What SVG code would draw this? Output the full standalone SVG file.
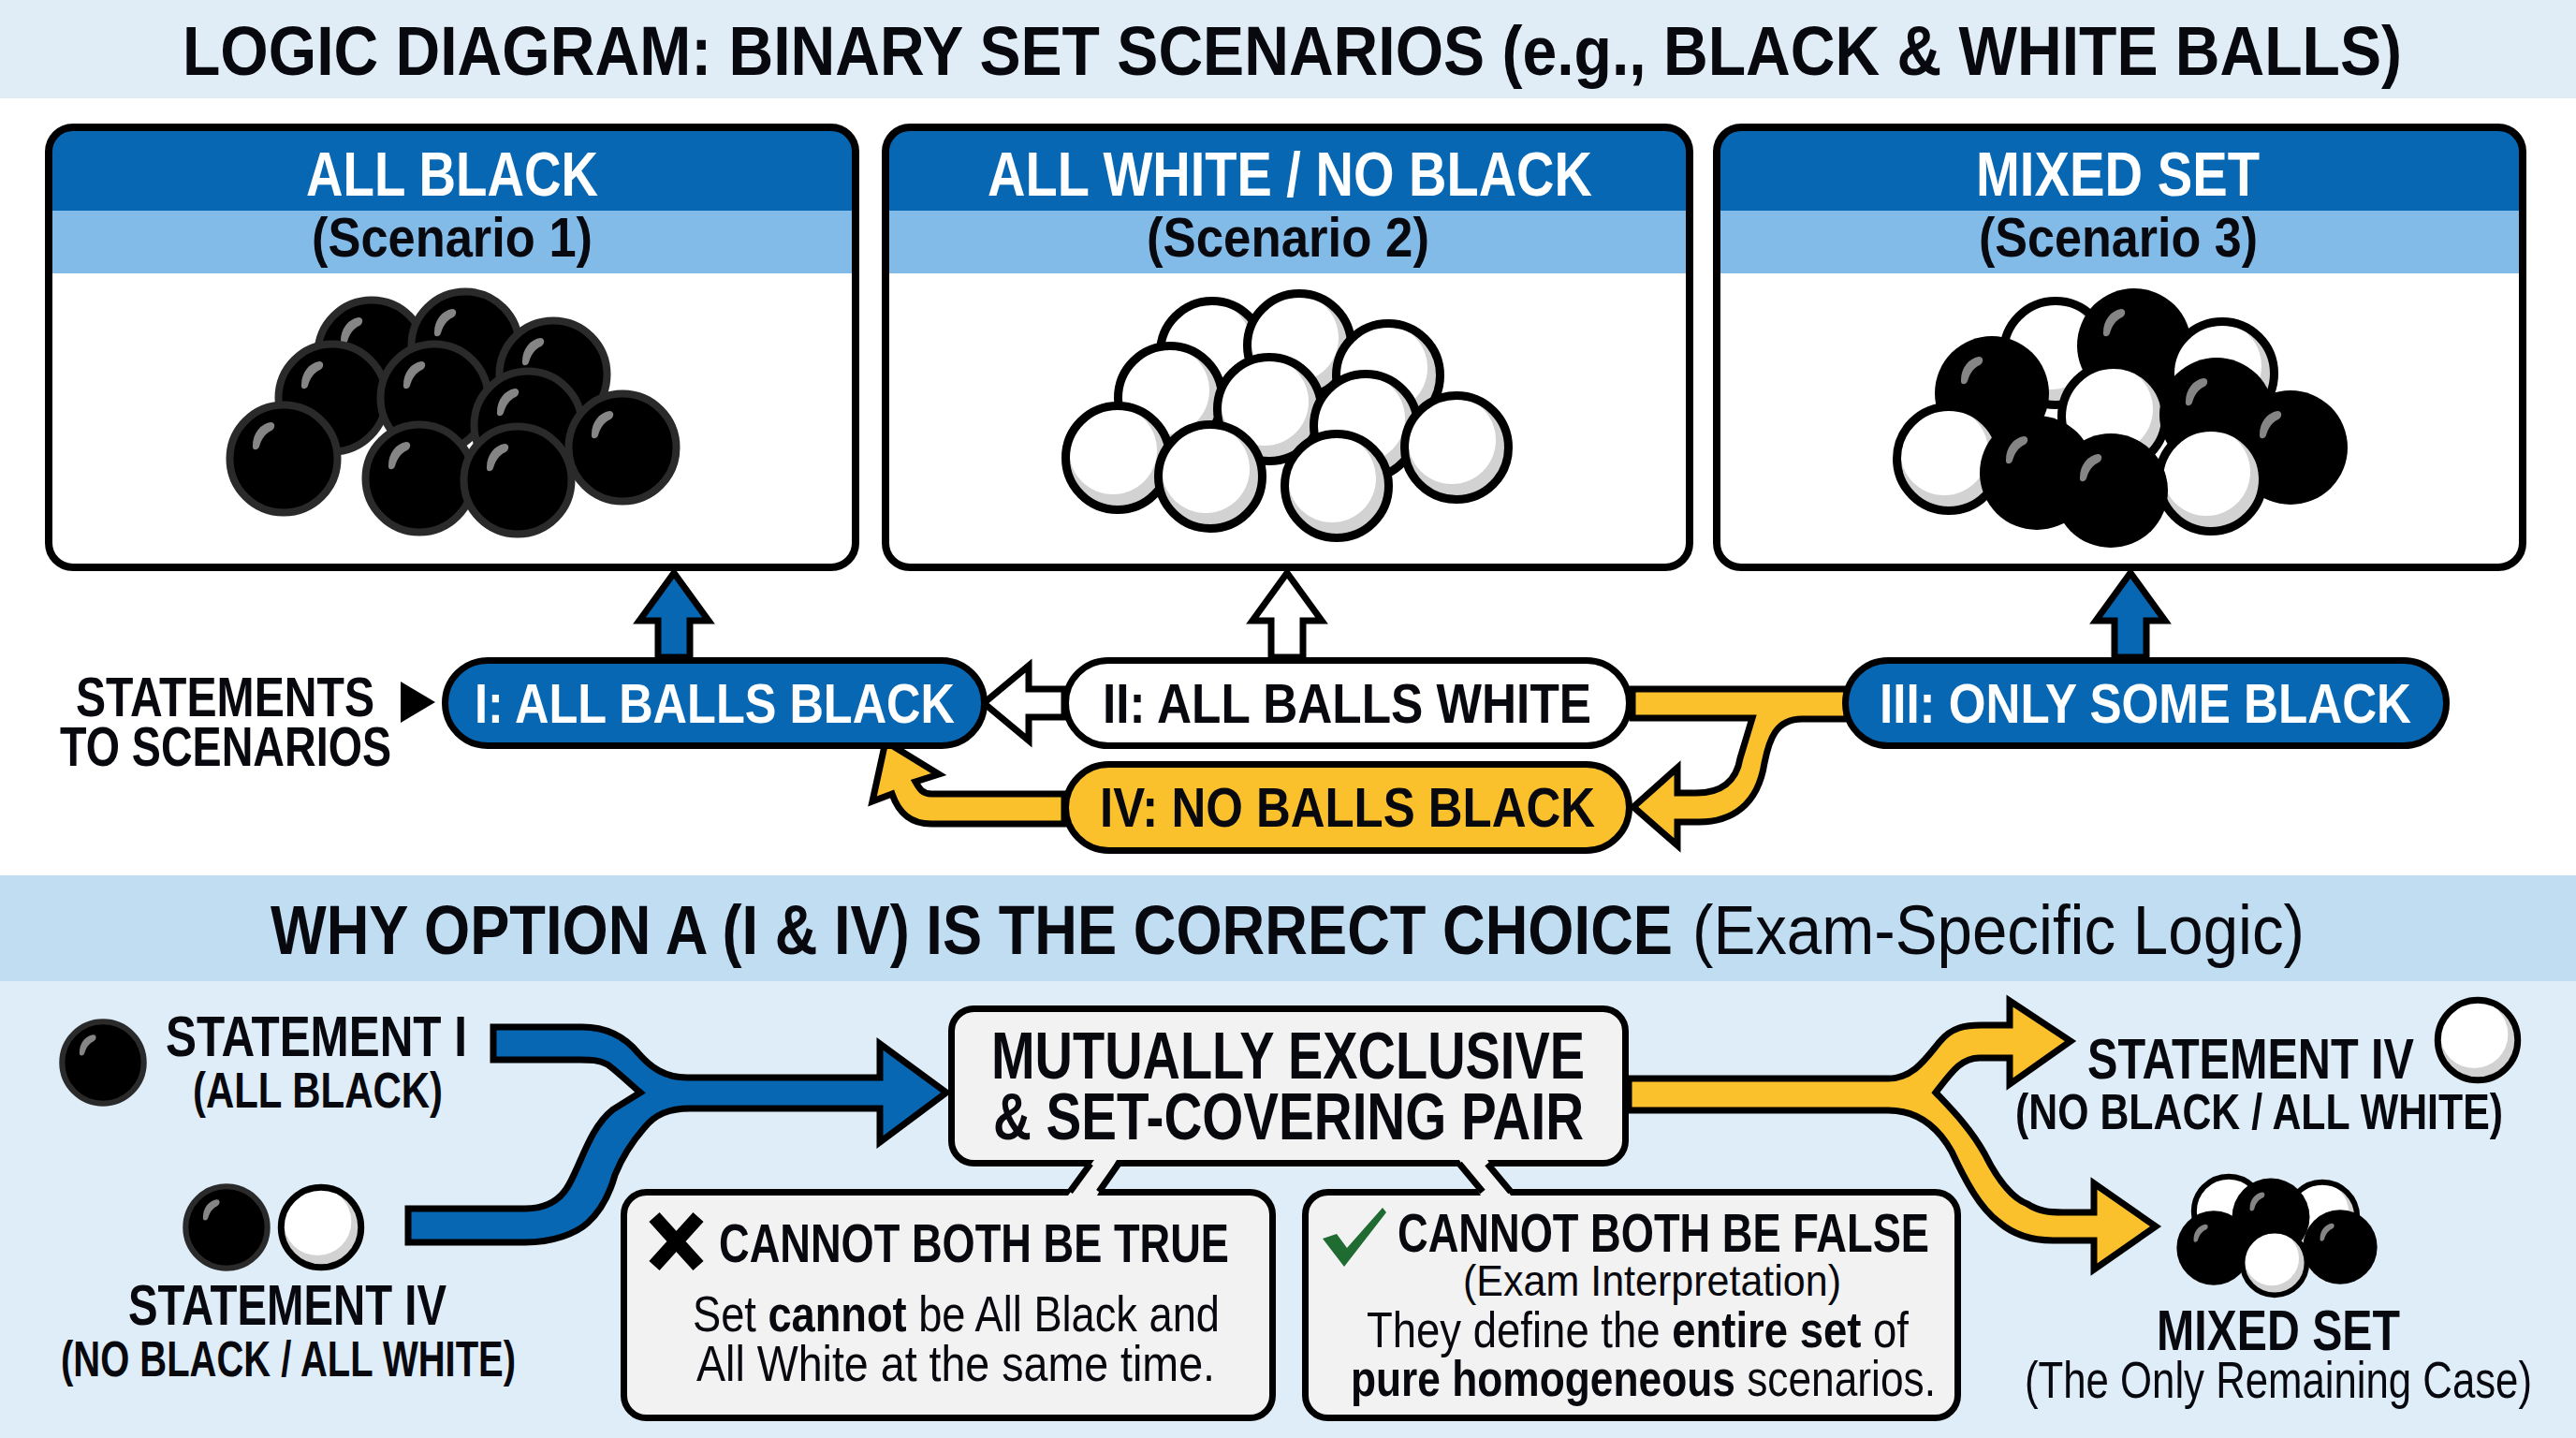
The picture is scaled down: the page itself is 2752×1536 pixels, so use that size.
<svg xmlns="http://www.w3.org/2000/svg" width="2752" height="1536" viewBox="0 0 2752 1536">
<style>
text{font-family:"Liberation Sans",Arial,sans-serif;fill:#08080f;font-weight:700}
text.w{fill:#fff}
text.r{font-weight:400}
tspan.b{font-weight:700}
.box{fill:#f2f2f2;stroke:#000;stroke-width:7}
.card{fill:none;stroke:#000;stroke-width:8}
.flow{stroke:#000;stroke-width:7;stroke-linejoin:miter}
.blue{fill:#0867b3}.yel{fill:#fbc12d}.wht{fill:#fff}
.pill{stroke:#000;stroke-width:7}
</style>
<defs>
<path id="hl" d="M-33,-14C-33,-27-25,-37-14,-39C-8,-39-9,-32-13,-30C-20,-27-24,-20-26,-13C-28,-8-34,-9-33,-14Z" fill="#858585"/>
<g id="bk"><circle r="57.5" fill="#000" stroke="#2a2a2a" stroke-width="8"/><use href="#hl"/></g>
<g id="bm"><circle r="61" fill="#000"/><use href="#hl"/></g>
<g id="wh"><circle r="55.5" fill="#d2d2d2"/><circle cx="-5" cy="-8" r="47" fill="#fff"/><circle r="55.5" fill="none" stroke="#000" stroke-width="9"/></g>
</defs>
<rect width="2752" height="1536" fill="#fff"/>
<rect id="title-band" width="2752" height="105" fill="#e0edf6"/>
<rect id="why-band" y="935" width="2752" height="113" fill="#c0ddf1"/>
<rect id="bottom-band" y="1048" width="2752" height="488" fill="#deedf8"/>
<text id="title" transform="translate(195,80) scale(1,1.116)" font-size="66.300" textLength="2371" lengthAdjust="spacingAndGlyphs">LOGIC DIAGRAM: BINARY SET SCENARIOS (e.g., BLACK &amp; WHITE BALLS)</text>

<g id="card1">
<rect x="52" y="136" width="862" height="470" rx="26" fill="#fff"/>
<path d="M52,225V162Q52,136 78,136H888Q914,136 914,162V225Z" fill="#0867b3"/>
<rect x="52" y="225" width="862" height="67" fill="#82bbe8"/>
<rect class="card" x="52" y="136" width="862" height="470" rx="26"/>
<text class="w" transform="translate(327,209) scale(1,1.229)" font-size="54.500" textLength="312" lengthAdjust="spacingAndGlyphs">ALL BLACK</text>
<text transform="translate(333,274) scale(1,1.145)" font-size="52.400" textLength="300" lengthAdjust="spacingAndGlyphs">(Scenario 1)</text>
<use href="#bk" x="397" y="378"/><use href="#bk" x="497" y="369"/><use href="#bk" x="591" y="400"/><use href="#bk" x="355" y="425"/><use href="#bk" x="464" y="425"/><use href="#bk" x="564" y="454"/><use href="#bk" x="665" y="478"/><use href="#bk" x="303" y="490"/><use href="#bk" x="448" y="511"/><use href="#bk" x="553" y="513"/>
</g>
<g id="card2">
<rect x="946" y="136" width="859" height="470" rx="26" fill="#fff"/>
<path d="M946,225V162Q946,136 972,136H1779Q1805,136 1805,162V225Z" fill="#0867b3"/>
<rect x="946" y="225" width="859" height="67" fill="#82bbe8"/>
<rect class="card" x="946" y="136" width="859" height="470" rx="26"/>
<text class="w" transform="translate(1055,209) scale(1,1.199)" font-size="55.900" textLength="646" lengthAdjust="spacingAndGlyphs">ALL WHITE / NO BLACK</text>
<text transform="translate(1225,274) scale(1,1.137)" font-size="52.800" textLength="302" lengthAdjust="spacingAndGlyphs">(Scenario 2)</text>
<use href="#wh" x="1295" y="377"/><use href="#wh" x="1388" y="369"/><use href="#wh" x="1483" y="401"/><use href="#wh" x="1250" y="425"/><use href="#wh" x="1356" y="437"/><use href="#wh" x="1459" y="455"/><use href="#wh" x="1556" y="478"/><use href="#wh" x="1194" y="489"/><use href="#wh" x="1293" y="509"/><use href="#wh" x="1428" y="519"/>
</g>
<g id="card3">
<rect x="1834" y="136" width="861" height="470" rx="26" fill="#fff"/>
<path d="M1834,225V162Q1834,136 1860,136H2669Q2695,136 2695,162V225Z" fill="#0867b3"/>
<rect x="1834" y="225" width="861" height="67" fill="#82bbe8"/>
<rect class="card" x="1834" y="136" width="861" height="470" rx="26"/>
<text class="w" transform="translate(2111,209) scale(1,1.2)" font-size="55.800" textLength="303" lengthAdjust="spacingAndGlyphs">MIXED SET</text>
<text transform="translate(2114,274) scale(1,1.152)" font-size="52.100" textLength="298" lengthAdjust="spacingAndGlyphs">(Scenario 3)</text>
<use href="#wh" x="2196" y="377"/><use href="#bm" x="2280" y="369"/><use href="#wh" x="2374" y="399"/><use href="#bm" x="2128" y="420"/><use href="#wh" x="2258" y="445"/><use href="#bm" x="2368" y="443"/><use href="#bm" x="2447" y="478"/><use href="#wh" x="2082" y="490"/><use href="#bm" x="2176" y="505"/><use href="#wh" x="2362" y="512"/><use href="#bm" x="2255" y="524"/>
</g>

<g id="connectors">
<path class="flow blue" d="M703,702V663H683L720,612L757,663H737V702Z"/>
<path class="flow wht" d="M1358,702V663H1338L1375,612L1412,663H1392V702Z"/>
<path class="flow blue" d="M2259,702V663H2239L2276,612L2313,663H2293V702Z"/>
<path class="flow wht" d="M1137,736H1099V711L1051,751L1099,791V766H1137Z"/>
<path class="flow yel" d="M1744,736H1973V768H1925C1897,768 1890,790 1885,815C1878,860 1850,878 1815,878H1792V903L1745,862L1792,820V847H1812C1838,847 1855,835 1859,810L1872,767H1744Z"/>
<path class="flow yel" d="M1137,848H995C985,848 982,842 978,835L1003,827L946,792L932,856L953,848C960,868 972,880 995,880H1137Z"/>
<path class="flow blue" d="M527,1097H622C650,1097 668,1108 682,1125C695,1140 710,1151 734,1151H940V1115L1011,1167L940,1220V1184H737C715,1184 700,1190 688,1205C675,1220 665,1235 657,1255C650,1280 640,1295 628,1306C615,1318 590,1327 561,1327H436V1291H561C585,1291 600,1280 608,1265C622,1240 630,1205 655,1185L684,1167C670,1155 660,1145 649,1137C640,1132 630,1132 620,1132H527Z"/>
<path class="flow yel" d="M1740,1152H2017C2044,1152 2058,1130 2072,1113C2085,1097 2100,1095 2117,1095H2147V1069L2212,1112L2147,1158V1130H2115C2095,1130 2085,1145 2068,1167C2085,1185 2105,1205 2120,1232C2135,1262 2150,1280 2166,1286C2178,1294 2190,1295 2204,1295H2237V1264L2303,1310L2237,1356V1325H2193C2170,1325 2150,1318 2135,1305C2115,1290 2100,1262 2085,1230C2068,1200 2045,1186 2017,1186H1740Z"/>
</g>

<g id="label-statements">
<text transform="translate(81,765) scale(1,1.279)" font-size="46.900" textLength="319" lengthAdjust="spacingAndGlyphs">STATEMENTS</text>
<text transform="translate(64,818) scale(1,1.26)" font-size="47.600" textLength="354" lengthAdjust="spacingAndGlyphs">TO SCENARIOS</text>
<polygon points="428,728 465,750 428,772" fill="#000"/>
</g>
<g id="pill-i"><rect class="pill blue" x="475.500" y="705.500" width="576" height="91" rx="45.500"/><text class="w" transform="translate(507,772) scale(1,1.2)" font-size="50" textLength="513" lengthAdjust="spacingAndGlyphs">I: ALL BALLS BLACK</text></g>
<g id="pill-ii"><rect class="pill wht" x="1138.500" y="705.500" width="602" height="91" rx="45.500"/><text transform="translate(1178,772) scale(1,1.181)" font-size="50.800" textLength="522" lengthAdjust="spacingAndGlyphs">II: ALL BALLS WHITE</text></g>
<g id="pill-iii"><rect class="pill blue" x="1971.500" y="705.500" width="642" height="91" rx="45.500"/><text class="w" transform="translate(2008,772) scale(1,1.19)" font-size="50.400" textLength="568" lengthAdjust="spacingAndGlyphs">III: ONLY SOME BLACK</text></g>
<g id="pill-iv"><rect class="pill yel" x="1138.500" y="816.500" width="602" height="92" rx="46"/><text transform="translate(1175,883) scale(1,1.19)" font-size="50.400" textLength="529" lengthAdjust="spacingAndGlyphs">IV: NO BALLS BLACK</text></g>

<text id="why-title" transform="translate(289,1019) scale(1,1.175)" font-size="63" textLength="1498" lengthAdjust="spacingAndGlyphs">WHY OPTION A (I &amp; IV) IS THE CORRECT CHOICE</text>
<text id="why-sub" class="r" transform="translate(1808,1019) scale(1,1.1)" font-size="67.300" textLength="654" lengthAdjust="spacingAndGlyphs">(Exam-Specific Logic)</text>

<g id="statement-i">
<use href="#bk" transform="translate(110,1135) scale(.76)"/>
<text transform="translate(177,1128) scale(1,1.29)" font-size="48" textLength="322" lengthAdjust="spacingAndGlyphs">STATEMENT I</text>
<text transform="translate(206,1183) scale(1,1.292)" font-size="41.800" textLength="267" lengthAdjust="spacingAndGlyphs">(ALL BLACK)</text>
</g>
<g id="statement-iv-left">
<use href="#bk" transform="translate(242,1311) scale(.76)"/>
<use href="#wh" transform="translate(343,1311) scale(.77)"/>
<text transform="translate(137,1415) scale(1,1.345)" font-size="46.100" textLength="340" lengthAdjust="spacingAndGlyphs">STATEMENT IV</text>
<text transform="translate(65,1470) scale(1,1.36)" font-size="39.700" textLength="486" lengthAdjust="spacingAndGlyphs">(NO BLACK / ALL WHITE)</text>
</g>

<g id="main-box">
<rect class="box" x="1016.500" y="1077.500" width="720" height="165" rx="24"/>
<text transform="translate(1059,1152) scale(1,1.27)" font-size="55.100" textLength="634" lengthAdjust="spacingAndGlyphs">MUTUALLY EXCLUSIVE</text>
<text transform="translate(1061,1217) scale(1,1.257)" font-size="55.700" textLength="631" lengthAdjust="spacingAndGlyphs">&amp; SET-COVERING PAIR</text>
</g>
<g id="box-true">
<rect class="box" x="666.500" y="1273.500" width="693" height="241" rx="24"/>
<path d="M699,1300L746,1352M746,1300L699,1352" stroke="#000" stroke-width="15" fill="none"/>
<text transform="translate(768,1348) scale(1,1.29)" font-size="44.900" textLength="545" lengthAdjust="spacingAndGlyphs">CANNOT BOTH BE TRUE</text>
<text class="r" transform="translate(740,1422) scale(1,1.2)" font-size="45" textLength="563" lengthAdjust="spacingAndGlyphs">Set <tspan class="b">cannot</tspan> be All Black and</text>
<text class="r" transform="translate(744,1475) scale(1,1.159)" font-size="46.600" textLength="554" lengthAdjust="spacingAndGlyphs">All White at the same time.</text>
</g>
<g id="box-false">
<rect class="box" x="1394.500" y="1273.500" width="697" height="241" rx="24"/>
<polygon points="1413,1323 1428,1318 1439,1333 1477,1290 1481,1295 1436,1353" fill="#1f6b32"/>
<text transform="translate(1493,1337) scale(1,1.295)" font-size="44.800" textLength="568" lengthAdjust="spacingAndGlyphs">CANNOT BOTH BE FALSE</text>
<text class="r" transform="translate(1563,1384) scale(1,1.093)" font-size="43" textLength="404" lengthAdjust="spacingAndGlyphs">(Exam Interpretation)</text>
<text class="r" transform="translate(1460,1439) scale(1,1.187)" font-size="45.500" textLength="579" lengthAdjust="spacingAndGlyphs">They define the <tspan class="b">entire set</tspan> of</text>
<text class="r" transform="translate(1443,1491) scale(1,1.222)" font-size="44.200" textLength="625" lengthAdjust="spacingAndGlyphs"><tspan class="b">pure homogeneous</tspan> scenarios.</text>
</g>
<g id="necks">
<polygon points="1169,1239 1193,1239 1172,1277 1141,1277" fill="#f2f2f2"/>
<polygon points="1559,1239 1589,1239 1614,1277 1582,1277" fill="#f2f2f2"/>
<path d="M1165,1243L1143,1273M1195,1243L1174,1273M1559,1243L1584,1273M1589,1243L1614,1273" stroke="#000" stroke-width="7" fill="none"/>
</g>

<g id="statement-iv-right">
<text transform="translate(2230,1152) scale(1,1.31)" font-size="47.300" textLength="349" lengthAdjust="spacingAndGlyphs">STATEMENT IV</text>
<text transform="translate(2153,1206) scale(1,1.27)" font-size="42.500" textLength="521" lengthAdjust="spacingAndGlyphs">(NO BLACK / ALL WHITE)</text>
<use href="#wh" transform="translate(2647,1111) scale(.77)"/>
</g>
<g id="mixed-set">
<use href="#wh" transform="translate(2381,1294) scale(.67)"/>
<use href="#wh" transform="translate(2481,1300) scale(.67)"/>
<use href="#bm" transform="translate(2426,1300) scale(.68)"/>
<use href="#bm" transform="translate(2365,1333) scale(.65)"/>
<use href="#bm" transform="translate(2500,1332) scale(.65)"/>
<use href="#wh" transform="translate(2430,1349) scale(.62)"/>
<text transform="translate(2304,1442) scale(1,1.295)" font-size="47.900" textLength="260" lengthAdjust="spacingAndGlyphs">MIXED SET</text>
<text class="r" transform="translate(2163,1493) scale(1,1.259)" font-size="43.700" textLength="542" lengthAdjust="spacingAndGlyphs">(The Only Remaining Case)</text>
</g>
</svg>
